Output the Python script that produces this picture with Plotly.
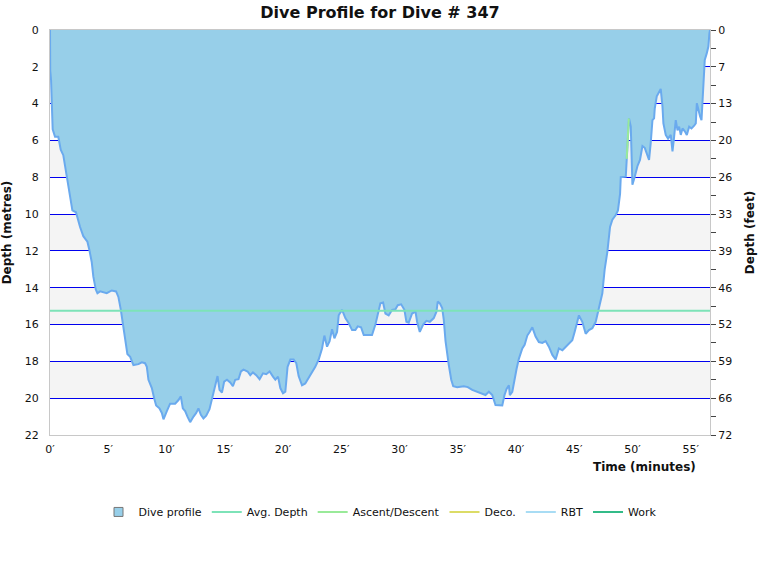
import plotly.graph_objects as go

# ---- data ----
time_min = [0, 0.02, 0.09, 0.15, 0.16, 0.23, 0.43, 0.71, 0.80, 0.92, 1.14, 1.35, 1.57, 1.78, 1.92, 2.23, 2.35,
            2.58, 2.86, 3.21, 3.38, 3.58, 3.72, 3.93, 4.07, 4.30, 4.87, 5.30, 5.67, 5.87, 6.08, 6.30, 6.45,
            6.64, 6.88, 7.16, 7.59, 7.88, 8.16, 8.31, 8.45, 8.74, 8.94, 9.11, 9.39, 9.60, 9.74, 9.88, 10.03,
            10.31, 10.74, 11.03, 11.23, 11.40, 11.60, 11.80, 12.03, 12.32, 12.55, 12.74, 12.95, 13.17, 13.41,
            13.69, 13.90, 14.03, 14.27, 14.38, 14.55, 14.76, 14.95, 15.19, 15.47, 15.70, 15.90, 16.18, 16.39,
            16.61, 16.96, 17.19, 17.42, 17.70, 17.99, 18.28, 18.56, 18.85, 19.14, 19.34, 19.57, 19.77, 20.00,
            20.20, 20.39, 20.63, 20.91, 21.14, 21.34, 21.63, 21.91, 22.20, 22.49, 22.77, 23.06, 23.35, 23.55,
            23.78, 24.00, 24.21, 24.41, 24.64, 24.78, 25.07, 25.35, 25.64, 25.93, 26.21, 26.41, 26.70, 26.93,
            27.64, 27.93, 28.13, 28.36, 28.59, 28.79, 29.07, 29.37, 29.65, 29.85, 30.14, 30.42, 30.59, 30.79,
            31.08, 31.37, 31.51, 31.74, 32.03, 32.31, 32.60, 32.94, 33.17, 33.28, 33.46, 33.66, 33.80, 33.95,
            34.23, 34.44, 34.61, 34.95, 35.52, 35.86, 36.24, 36.67, 37.10, 37.38, 37.67, 37.96, 38.24, 38.82,
            39.01, 39.19, 39.39, 39.47, 39.68, 39.82, 40.05, 40.25, 40.54, 40.74, 40.97, 41.17, 41.40, 41.68,
            41.96, 42.26, 42.54, 42.82, 43.12, 43.40, 43.68, 43.98, 44.26, 44.54, 44.83, 45.03, 45.26, 45.40,
            45.69, 45.98, 46.26, 46.55, 46.84, 47.03, 47.21, 47.41, 47.50, 47.61, 47.84, 47.96, 48.07, 48.27,
            48.56, 48.75, 48.93, 48.99, 49.42, 49.50, 49.57, 49.70, 49.85, 49.93, 49.99, 50.19, 50.42, 50.64,
            50.85, 51.05, 51.28, 51.42, 51.56, 51.71, 51.85, 51.91, 52.08, 52.28, 52.42, 52.57, 52.65, 52.85,
            53.05, 53.28, 53.43, 53.57, 53.71, 53.86, 54.00, 54.14, 54.29, 54.49, 54.66, 54.86, 55.06, 55.29,
            55.43, 55.52, 55.63, 55.80, 55.92, 56.00, 56.09, 56.20, 56.37, 56.51, 56.60, 56.65]
depth_m = [0, 2.2, 2.7, 3.9, 4.8, 5.4, 5.8, 5.8, 6.1, 6.5, 6.8, 7.6, 8.3, 9.05, 9.8, 9.9, 10.2,
           10.7, 11.2, 11.5, 11.95, 12.6, 13.4, 14.1, 14.3, 14.2, 14.3, 14.15, 14.2, 14.5, 15.2, 16.1, 16.8,
           17.6, 17.75, 18.2, 18.15, 18.05, 18.1, 18.3, 19.0, 19.45, 20.0, 20.4, 20.55, 20.8, 21.15, 20.9, 20.7,
           20.3, 20.3, 20.1, 19.9, 20.55, 20.7, 21.0, 21.3, 21.0, 20.8, 20.55, 20.9, 21.1, 20.95,
           20.6, 20.1, 19.65, 19.1, 18.8, 19.55, 19.7, 19.1, 19.0, 19.15, 19.35, 19.0, 18.97, 18.55,
           18.45, 18.55, 18.75, 18.6, 18.75, 18.97, 18.65, 18.7, 18.55, 18.83, 19.0, 18.83, 19.45, 19.73,
           19.65, 18.3, 17.9, 17.9, 18.1, 18.8, 19.3, 19.2, 18.9, 18.65, 18.3, 17.9, 17.3, 16.6,
           17.2, 16.9, 16.25, 16.75, 16.4, 15.5, 15.2, 15.65, 15.93, 16.3, 16.3, 16.1, 16.15, 16.57,
           16.57, 16.0, 15.4, 14.85, 14.8, 15.4, 15.5, 15.2, 15.17, 14.95, 14.9, 15.2, 15.85, 15.9,
           15.4, 15.3, 15.85, 16.4, 16.0, 15.8, 15.85, 15.65, 15.3, 14.75, 14.85, 15.1, 15.75, 16.9,
           18.2, 19.0, 19.35, 19.4, 19.35, 19.4, 19.55, 19.65, 19.73, 19.83, 19.65, 19.83, 20.37, 20.4,
           19.83, 19.5, 19.3, 19.83, 19.65, 19.1, 18.4, 17.85, 17.3, 17.1, 16.6, 16.4, 16.15, 16.65,
           16.95, 17.0, 16.9, 17.2, 17.65, 17.9, 17.3, 17.4, 17.2, 17.0, 16.85, 16.4, 15.85, 15.5,
           15.85, 16.5, 16.3, 16.2, 15.85, 15.3, 14.85, 14.3, 13.7, 13.0, 12.05, 11.2, 10.7, 10.3,
           10.05, 9.8, 8.9, 8.0, 7.97, 7.06, 6.3, 4.8, 5.25, 7.06, 8.4, 7.97, 7.4, 7.06,
           6.3, 6.4, 6.8, 7.06, 6.15, 4.9, 4.8, 4.25, 3.6, 3.35, 3.2, 4.15, 5.07, 5.7,
           5.9, 5.7, 6.6, 5.8, 4.9, 5.45, 5.25, 5.7, 5.35, 5.5, 5.7, 5.25, 5.35, 5.2,
           5.07, 3.98, 4.35, 4.7, 4.9, 3.8, 2.7, 1.63, 1.27, 0.9, 0.18, 0]

avg_depth_m = 15.25
ascent_time = [49.50, 49.68]
ascent_depth = [7.0, 4.8]

x_tick_vals = [0, 5, 10, 15, 20, 25, 30, 35, 40, 45, 50, 55]
x_tick_text = ["0′", "5′", "10′", "15′", "20′", "25′", "30′", "35′", "40′", "45′", "50′", "55′"]
m_tick_vals = [0, 2, 4, 6, 8, 10, 12, 14, 16, 18, 20, 22]
ft_tick_vals = list(range(0, 23))
ft_tick_text = ["0", "", "7", "", "13", "", "20", "", "26", "", "33", "", "39", "", "46", "",
                "52", "", "59", "", "66", "", "72"]
band_starts = [2, 6, 10, 14, 18]

t_end = 56.65
FONT = "DejaVu Sans, Verdana, sans-serif"

fig = go.Figure()

fig.add_trace(go.Scatter(
    x=time_min, y=depth_m, mode="lines", name="Dive profile", showlegend=False,
    fill="tozeroy", fillcolor="#97cfe9",
    line=dict(color="#6aaaee", width=2), hoverinfo="skip"))
# legend entry for the profile (square swatch)
fig.add_trace(go.Scatter(
    x=[None], y=[None], mode="markers", name="Dive profile",
    marker=dict(symbol="square", size=9, color="#97cfe9", line=dict(color="#777777", width=1))))
fig.add_trace(go.Scatter(
    x=[0, t_end], y=[avg_depth_m, avg_depth_m], mode="lines", name="Avg. Depth",
    line=dict(color="#7de3b8", width=2), hoverinfo="skip"))
fig.add_trace(go.Scatter(
    x=ascent_time, y=ascent_depth, mode="lines", name="Ascent/Descent",
    line=dict(color="#99ea99", width=2), hoverinfo="skip"))
fig.add_trace(go.Scatter(
    x=[None], y=[None], mode="lines", name="Deco.",
    line=dict(color="#dcdc66", width=2)))
fig.add_trace(go.Scatter(
    x=[None], y=[None], mode="lines", name="RBT",
    line=dict(color="#a8dcf4", width=2)))
fig.add_trace(go.Scatter(
    x=[None], y=[None], mode="lines", name="Work",
    line=dict(color="#33bb88", width=2)))
# invisible trace to carry the feet axis
fig.add_trace(go.Scatter(x=[0], y=[0], yaxis="y2", mode="markers",
                         marker=dict(opacity=0), showlegend=False, hoverinfo="skip"))

for b in band_starts:
    fig.add_shape(type="rect", xref="x", yref="y", x0=0, x1=t_end, y0=b, y1=b + 2,
                  fillcolor="#f4f4f4", line=dict(width=0), layer="below")

fig.update_layout(
    width=760, height=580,
    margin=dict(l=50, r=50, t=30, b=145, autoexpand=False),
    paper_bgcolor="white", plot_bgcolor="white",
    font=dict(family=FONT, size=11, color="#111111"),
    title=dict(text="<b>Dive Profile for Dive # 347</b>", x=0.5, xanchor="center",
               y=0.979, yanchor="middle", font=dict(size=16, color="#111111")),
    showlegend=True,
    legend=dict(orientation="h", x=0.5, xanchor="center", y=-0.19, yanchor="middle",
                font=dict(size=11), itemwidth=30, tracegroupgap=0),
    xaxis=dict(range=[0, t_end], tickmode="array", tickvals=x_tick_vals, ticktext=x_tick_text,
               showgrid=False, zeroline=False, showline=True, linecolor="#c8c8c8", linewidth=1,
               mirror=True, ticks="outside", ticklen=4, tickcolor="rgba(0,0,0,0)",
               tickfont=dict(size=11), automargin=False),
    yaxis=dict(range=[22, 0], tickmode="array", tickvals=m_tick_vals,
               showgrid=True, gridcolor="#0000ee", gridwidth=1, zeroline=False,
               showline=True, linecolor="#c8c8c8", linewidth=1, mirror=True,
               ticks="outside", ticklen=8, tickcolor="rgba(0,0,0,0)", automargin=False,
               title=dict(text="<b>Depth (metres)</b>", font=dict(size=12), standoff=10)),
    yaxis2=dict(range=[22, 0], overlaying="y", side="right", anchor="x",
                tickmode="array", tickvals=ft_tick_vals, ticktext=ft_tick_text,
                showgrid=False, zeroline=False, showline=True, linecolor="#c8c8c8",
                ticks="outside", ticklen=5, tickcolor="#444444", automargin=False,
                title=dict(text="<b>Depth (feet)</b>", font=dict(size=12), standoff=14)),
    annotations=[dict(text="<b>Time (minutes)</b>", xref="paper", yref="paper",
                      x=1.0, xanchor="right", xshift=-12, y=0, yshift=-32, yanchor="middle",
                      showarrow=False, font=dict(size=12, color="#111111"))],
)

fig.write_html("out.html")
